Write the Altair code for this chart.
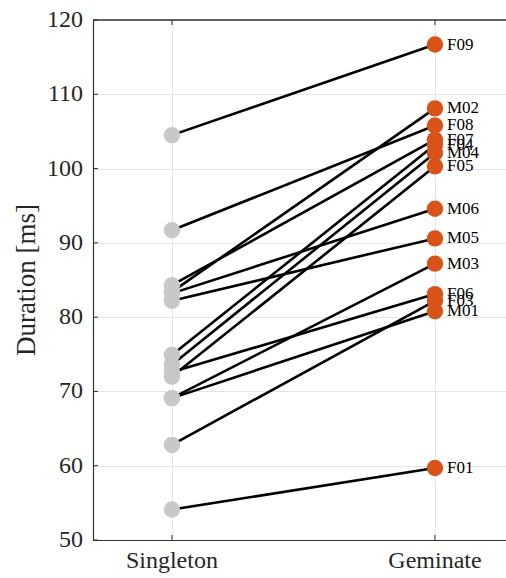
import altair as alt
import pandas as pd

# ---- data ----
speakers = ["F09", "F08", "F07", "M02", "M06", "M05", "F04", "M04",
            "F06", "F05", "M03", "M01", "F03", "F01"]
singleton = [104.5, 91.7, 84.3, 83.4, 83.2, 82.2, 74.9, 73.6,
             72.6, 72.0, 69.1, 69.1, 62.8, 54.1]
geminate = [116.7, 105.8, 103.9, 108.1, 94.6, 90.6, 103.2, 102.1,
            83.1, 100.3, 87.2, 80.8, 82.2, 59.7]
conditions = ["Singleton", "Geminate"]
y_ticks = [50, 60, 70, 80, 90, 100, 110, 120]
y_title = "Duration [ms]"

rows = []
for s, a, b in zip(speakers, singleton, geminate):
    rows.append({"speaker": s, "cond": 1, "dur": a})
    rows.append({"speaker": s, "cond": 2, "dur": b})
df = pd.DataFrame(rows)
df_s = df[df.cond == 1]
df_g = df[df.cond == 2]
ticks_df = pd.DataFrame({"v": y_ticks, "lab": [str(t) for t in y_ticks]})
xt_df = pd.DataFrame({"c": [1, 2], "lab": conditions})
title_df = pd.DataFrame({"t": [y_title]})

W, H = 413, 520
FONT = "Liberation Serif"
TXT = "#262626"

xs = alt.Scale(domain=[0.7, 2.27], nice=False, zero=False)
ys = alt.Scale(domain=[50, 120], nice=False, zero=False)

xaxis = alt.Axis(values=[1, 2], title=None, grid=True, labels=False,
                 gridColor="#e6e6e6", gridWidth=1, ticks=False,
                 domainColor="#333333", domainWidth=1.2)
yaxis = alt.Axis(values=y_ticks, title=None, grid=True, labels=False,
                 gridColor="#e6e6e6", gridWidth=1, ticks=False,
                 domainColor="#333333", domainWidth=1.2)

def X(f):
    return alt.X(f, scale=xs, axis=xaxis)

def Y(f):
    return alt.Y(f, scale=ys, axis=yaxis)

lines = alt.Chart(df).mark_line(color="black", strokeWidth=2.6).encode(
    x=X("cond:Q"), y=Y("dur:Q"), detail="speaker:N")

pts_s = alt.Chart(df_s).mark_circle(color="#c8c8c8", opacity=1, size=270).encode(
    x=X("cond:Q"), y=Y("dur:Q"))
pts_g = alt.Chart(df_g).mark_circle(color="#d95319", opacity=1, size=270).encode(
    x=X("cond:Q"), y=Y("dur:Q"))

labels = alt.Chart(df_g).mark_text(align="left", baseline="middle", dx=12,
                                   font=FONT, fontSize=17, color="black").encode(
    x=X("cond:Q"), y=Y("dur:Q"), text="speaker:N")

top_line = alt.Chart(xt_df).mark_rule(color="#333333", strokeWidth=1.2).encode(
    x=alt.value(0), x2=alt.value(W), y=alt.datum(120, scale=ys, axis=yaxis))

ytick_marks = alt.Chart(ticks_df).mark_rule(color="#333333", strokeWidth=1).encode(
    x=alt.value(0), x2=alt.value(5), y=Y("v:Q"))
xtick_bottom = alt.Chart(xt_df).mark_rule(color="#333333", strokeWidth=1).encode(
    x=X("c:Q"), y=alt.value(H), y2=alt.value(H - 5))
xtick_top = alt.Chart(xt_df).mark_rule(color="#333333", strokeWidth=1).encode(
    x=X("c:Q"), y=alt.value(0), y2=alt.value(5))

ylabels = alt.Chart(ticks_df).mark_text(
    align="right", baseline="middle", font=FONT, fontSize=24, color=TXT
).encode(x=alt.value(-10), y=Y("v:Q"), text="lab:N")

xlabels = alt.Chart(xt_df).mark_text(
    align="center", baseline="top", font=FONT, fontSize=24, color=TXT
).encode(x=X("c:Q"), y=alt.value(H + 9), text="lab:N")

ytitle = alt.Chart(title_df).mark_text(
    align="center", baseline="middle", angle=270, font=FONT, fontSize=27, color=TXT
).encode(x=alt.value(-66), y=alt.value(H / 2), text="t:N")

chart = alt.layer(
    lines, top_line, ytick_marks, xtick_bottom, xtick_top, pts_s, pts_g, labels,
    ylabels, xlabels, ytitle
).properties(
    width=W, height=H,
    autosize=alt.AutoSizeParams(type="none"),
    padding={"left": 93, "top": 20, "right": 0, "bottom": 38},
).configure(font=FONT).configure_view(stroke=None)

chart.save("out.html", embed_options={"renderer": "svg", "actions": False})
